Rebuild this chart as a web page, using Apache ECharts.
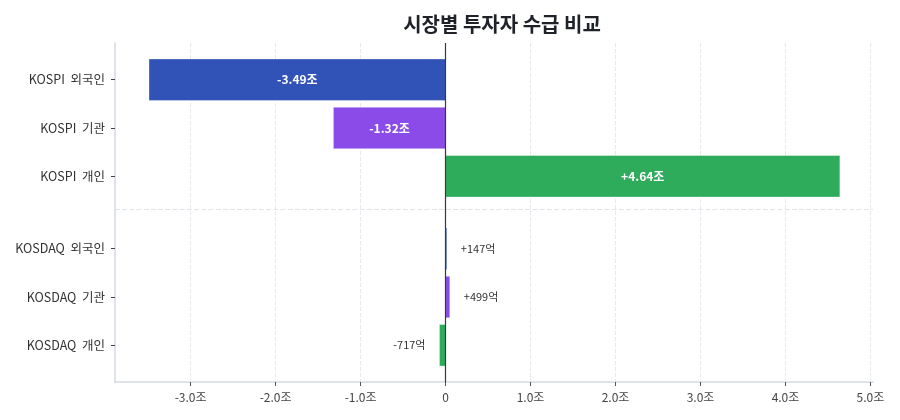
<!DOCTYPE html>
<html>
<head>
<meta charset="utf-8">
<script src="https://cdn.jsdelivr.net/npm/echarts@6/dist/echarts.min.js"></script>
<style>
  html, body { margin: 0; padding: 0; background: #fff; }
  #chart { width: 900px; height: 420px; }
</style>
</head>
<body>
<div id="chart"></div>
<script>
const investorLabels = ["KOSPI  외국인", "KOSPI  기관", "KOSPI  개인", "KOSDAQ  외국인", "KOSDAQ  기관", "KOSDAQ  개인"];
const rowPositions = [0, 1, 2, 3.5, 4.5, 5.5];
// net buying, in 조 (KOSDAQ rows are 억 / 10000)
const netValues = [-3.49, -1.32, 4.64, 0.0147, 0.0499, -0.0717];
const valueTexts = ["-3.49조", "-1.32조", "+4.64조", "+147억", "+499억", "-717억"];
const barColors = ["#3152b6", "#8a4be8", "#2eab5b", "#3152b6", "#8a4be8", "#2eab5b"];
const xTicks = [-3, -2, -1, 0, 1, 2, 3, 4, 5];
const separatorAt = 2.68;

const FONT = "Noto Sans CJK KR, Noto Sans, sans-serif";

const chart = echarts.init(document.getElementById("chart"), null, { renderer: "canvas" });

chart.setOption({
  backgroundColor: "#ffffff",
  title: {
    text: "시장별 투자자 수급 비교",
    left: 497,
    top: 9,
    textAlign: "center",
    textStyle: { fontFamily: FONT, fontWeight: "bold", fontSize: 20, color: "#1f2329" }
  },
  grid: { left: 115, right: 27, top: 43, bottom: 38 },
  xAxis: {
    type: "value",
    min: -3.89,
    max: 5.03,
    axisLine: { show: true, onZero: false, lineStyle: { color: "#d3d9e2", width: 1.5 } },
    axisTick: { show: true, length: 4, customValues: xTicks, lineStyle: { color: "#555" } },
    axisLabel: {
      customValues: xTicks,
      fontFamily: FONT,
      fontSize: 12,
      color: "#444",
      margin: 9,
      formatter: v => (v === 0 ? "0" : v.toFixed(1) + "조")
    },
    splitLine: { show: true, lineStyle: { color: "#e6e8ec", type: "dashed", width: 1 } }
  },
  yAxis: {
    type: "value",
    inverse: true,
    min: -0.76,
    max: 6.26,
    axisLine: { show: true, onZero: false, lineStyle: { color: "#d3d9e2", width: 1.5 } },
    axisTick: { show: true, length: 4, customValues: rowPositions, lineStyle: { color: "#444" } },
    axisLabel: {
      customValues: rowPositions,
      fontFamily: FONT,
      fontSize: 12.5,
      color: "#333",
      margin: 10,
      formatter: v => {
        const i = rowPositions.findIndex(p => Math.abs(p - v) < 1e-6);
        return i >= 0 ? investorLabels[i] : "";
      }
    },
    splitLine: { show: false }
  },
  series: [
    {
      type: "custom",
      name: "수급",
      data: netValues.map((v, i) => [v, rowPositions[i], i]),
      encode: { x: 0, y: 1 },
      renderItem: (params, api) => {
        const v = api.value(0);
        const pos = api.value(1);
        const i = api.value(2);
        const base = api.coord([0, pos]);
        const end = api.coord([v, pos]);
        const h = api.size([0, 0.86])[1];
        const x0 = Math.min(base[0], end[0]);
        const w = Math.abs(end[0] - base[0]);
        const inside = Math.abs(v) > 0.5;
        const text = inside
          ? {
              type: "text",
              style: {
                text: valueTexts[i],
                x: (base[0] + end[0]) / 2,
                y: base[1],
                align: "center",
                verticalAlign: "middle",
                fontFamily: FONT,
                fontSize: 12,
                fontWeight: "bold",
                fill: "#ffffff"
              }
            }
          : {
              type: "text",
              style: {
                text: valueTexts[i],
                x: v >= 0 ? end[0] + 14 : end[0] - 14,
                y: base[1],
                align: v >= 0 ? "left" : "right",
                verticalAlign: "middle",
                fontFamily: FONT,
                fontSize: 11,
                fill: "#333"
              }
            };
        return {
          type: "group",
          children: [
            {
              type: "rect",
              shape: { x: x0, y: base[1] - h / 2, width: w, height: h },
              style: { fill: barColors[i], stroke: "rgba(255,255,255,0.35)", lineWidth: 1 }
            },
            text
          ]
        };
      },
      markLine: {
        silent: true,
        symbol: "none",
        label: { show: false },
        animation: false,
        data: [
          { yAxis: separatorAt, lineStyle: { color: "#dfe3ea", type: "dashed", width: 1.2 } },
          { xAxis: 0, lineStyle: { color: "#3a3a3a", type: "solid", width: 1.2 } }
        ]
      },
      z: 3
    }
  ],
  animation: false
});
</script>
</body>
</html>
